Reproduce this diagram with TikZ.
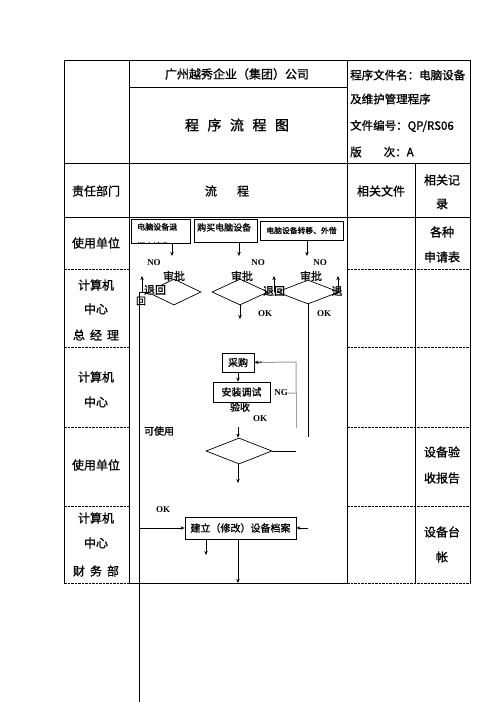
\documentclass[tikz,border=0pt]{standalone}
\usepackage{fontspec}
\setmainfont{Liberation Serif}
\newfontfamily\cjk[FakeBold=1.2]{Noto Sans CJK SC}
\usetikzlibrary{shapes.geometric,arrows.meta}
\newcommand\fsz[1]{\fontsize{#1}{#1}\selectfont}
\begin{document}
\begin{tikzpicture}[x=1pt,y=-1pt,
  tline/.style={line width=0.8pt},
  dline/.style={line width=0.7pt,dash pattern=on 2.5pt off 1pt},
  fl/.style={line width=0.8pt},
  arr/.style={line width=0.8pt,-{Stealth[length=4pt,width=3.5pt]}},
  gl/.style={line width=1pt,draw=gray!75},
  box/.style={draw,line width=0.8pt,inner sep=0pt},
  dia/.style={draw,diamond,line width=0.7pt,inner sep=0pt,aspect=2},
  txt/.style={font=\cjk\fsz{12},inner sep=0pt},
  ftx/.style={font=\cjk\fsz{10},inner sep=0pt},
  lat/.style={font=\bfseries\fsz{9},inner sep=0pt}]
\useasboundingbox (0,0) rectangle (496,702);
% ---------- table ----------
\draw[tline] (64,60) -- (470,60);
\draw[tline] (129,87) -- (347,87);
\draw[tline] (64,163) -- (470,163);
\draw[tline] (64,217) -- (470,217);
\draw[tline] (64,60) -- (64,583);
\draw[tline] (129,60) -- (129,583);
\draw[tline] (347,60) -- (347,583);
\draw[tline] (415,163) -- (415,583);
\draw[tline] (470,60) -- (470,583);
\foreach \y in {269,347,427,506,583}{
  \draw[dline] (64,\y) -- (129,\y);
  \draw[dline] (347,\y) -- (470,\y);
}
\draw[tline] (129,583) -- (347,583);
% ---------- header texts ----------
\node[txt] (t1) at (237,74) {广州越秀企业（集团）公司};
\node[txt,font=\cjk\fsz{14}] (t2) at (237,125) {程\hspace{8.5pt}序\hspace{8.5pt}流\hspace{8.5pt}程\hspace{8.5pt}图};
\node[txt,font=\cjk\fsz{11.5},anchor=west] (r1) at (350,75) {程序文件名：电脑设备};
\node[txt,font=\cjk\fsz{11.5},anchor=west] (r2) at (350,99) {及维护管理程序};
\node[txt,font=\cjk\fsz{11.5},anchor=west] (r3) at (350,126) {文件编号：QP/RS06};
\node[txt,font=\cjk\fsz{11.5},anchor=west] (r4) at (350,152) {版\hspace{22pt}次：A};
\node[txt] (h1) at (96,191) {责任部门};
\node[txt] (h2) at (227,191) {流\hspace{20pt}程};
\node[txt] (h3) at (381,191) {相关文件};
\node[txt] (h4) at (442,180) {相关记};
\node[txt] (h5) at (442,204) {录};
% ---------- left column ----------
\node[txt] (l1) at (96,243) {使用单位};
\node[txt] (l2) at (96,285) {计算机};
\node[txt] (l3) at (96,309) {中心};
\node[txt] (l4) at (96,335) {总\hspace{5pt}经\hspace{5pt}理};
\node[txt] (l5) at (96,377) {计算机};
\node[txt] (l6) at (96,402) {中心};
\node[txt] (l7) at (96,465) {使用单位};
\node[txt] (l8) at (96,518) {计算机};
\node[txt] (l9) at (96,543) {中心};
\node[txt] (l10) at (96,571) {财\hspace{5pt}务\hspace{5pt}部};
% ---------- right column ----------
\node[txt] (q1) at (442,232) {各种};
\node[txt] (q2) at (442,257) {申请表};
\node[txt] (q3) at (442,452) {设备验};
\node[txt] (q4) at (442,478) {收报告};
\node[txt] (q5) at (442,532) {设备台};
\node[txt] (q6) at (442,557) {帐};
% ---------- flow: top boxes ----------
\node[box,minimum width=59pt,minimum height=24pt] (b1) at (160.5,231) {};
\node[box,minimum width=63pt,minimum height=23pt] (b2) at (225.5,230.5) {};
\node[box,minimum width=83pt,minimum height=19pt,font=\cjk\fsz{7.8}] (b3) at (301.5,230.5) {电脑设备转移、外借};
\begin{scope}
  \clip (131,219) rectangle (190,243);
  \node[font=\cjk\fsz{8},inner sep=0pt,anchor=north west,align=left] (b1t) at (137,223) {电脑设备退\\[11pt]还申请表};
\end{scope}
\begin{scope}
  \clip (194,219) rectangle (257,242);
  \node[font=\cjk\fsz{9},inner sep=0pt,anchor=north west,align=left] (b2t) at (197,223) {购买电脑设备\\[10pt]申请表};
\end{scope}
\coordinate (a1) at (172,256);
\coordinate (a2) at (239,256);
\coordinate (a3) at (307,256);
\draw[arr] (b1.south -| a1) -- (a1);
\draw[arr] (b2.south -| a2) -- (a2);
\draw[arr] (b3.south -| a3) -- (a3);
\node[lat] (no1) at (154,263) {NO};
\node[lat] (no2) at (258,263) {NO};
\node[lat] (no3) at (320,263) {NO};
% ---------- diamonds ----------
\node[dia,minimum width=54pt,minimum height=26pt] (d1) at (174,292) {};
\node[dia,minimum width=56pt,minimum height=26pt] (d2) at (240,292) {};
\node[dia,minimum width=62pt,minimum height=24pt] (d3) at (308,292) {};
\node[ftx,font=\cjk\fsz{11}] (s1) at (174,276) {审批};
\node[ftx,font=\cjk\fsz{11}] (s2) at (242,276) {审批};
\node[ftx,font=\cjk\fsz{11}] (s3) at (311,276) {审批};
% return labels
\node[ftx,font=\cjk\fsz{11},fill=white] (th1) at (155,290) {退回};
\node[ftx,font=\cjk\fsz{10}] (th1b) at (141,301) {回};
\node[ftx,font=\cjk\fsz{11}] (th2) at (274,291) {退回};
\node[ftx,font=\cjk\fsz{11}] (th3) at (337,291) {退};
\coordinate (u1a) at (142,292); \coordinate (u1b) at (142,276);
\coordinate (u2a) at (274,292); \coordinate (u2b) at (274,276);
\coordinate (u3a) at (338,292); \coordinate (u3b) at (338,276);
\draw[arr] (u1a) -- (u1b);
\draw[arr] (u2a) -- (u2b);
\draw[arr] (u3a) -- (u3b);
\coordinate (v0) at (150,292);
\coordinate (v1) at (139,292);
\coordinate (v2) at (139,702);
\draw[fl] (v0) -- (v1) -- (v2);
% OK outputs
\coordinate (o2) at (240,319);
\draw[arr] (d2.south) -- (o2);
\node[lat] (ok1) at (265,314) {OK};
\node[lat] (ok2) at (324,314) {OK};
\coordinate (e3) at (308,437);
\draw[fl] (d3.south) -- (e3);
% ---------- purchase / install ----------
\node[box,minimum width=32pt,minimum height=19pt,font=\cjk\fsz{10}] (cg) at (238,362.5) {采购};
\node[box,minimum width=57pt,minimum height=20pt,font=\cjk\fsz{10}] (az) at (241.5,392) {安装调试};
\draw[arr] (cg.south) -- (cg.south |- az.north);
\node[lat] (ng) at (281,393) {NG};
\coordinate (g1) at (296,393);
\coordinate (g2) at (296,362);
\coordinate (g3) at (296,428);
\coordinate (g4) at (262,362);
\draw[gl] (ng.east) -- (g1) -- (g2) -- (cg.east);
\draw[arr,draw=black] (g4) -- (cg.east);
\draw[gl] (g1) -- (g3);
\node[ftx] (ys) at (240,407) {验收};
\node[lat] (ok3) at (260,419) {OK};
\node[ftx] (ksy) at (159,431) {可使用};
% ---------- acceptance diamond ----------
\node[dia,minimum width=66pt,minimum height=26pt] (d4) at (239,451) {};
\coordinate (k1) at (238,427);
\draw[arr] (k1) -- (d4.north -| k1);
\coordinate (k2) at (296,451);
\draw[fl] (d4.east) -- (k2);
\coordinate (k3) at (238,483);
\draw[arr] (d4.south -| k3) -- (k3);
% ---------- archive ----------
\node[lat] (ok4) at (163,510) {OK};
\node[box,minimum width=111pt,minimum height=22pt,font=\cjk\fsz{10}] (jl) at (240.5,528) {建立（修改）设备档案};
\coordinate (L1) at (139,528);
\draw[arr] (L1) -- (jl.west);
\coordinate (R1) at (308,528);
\draw[arr] (R1) -- (jl.east);
\coordinate (m1) at (206,555);
\draw[arr] (jl.south -| m1) -- (m1);
\coordinate (m2) at (238,583);
\draw[arr] (jl.south -| m2) -- (m2);
\end{tikzpicture}
\end{document}
